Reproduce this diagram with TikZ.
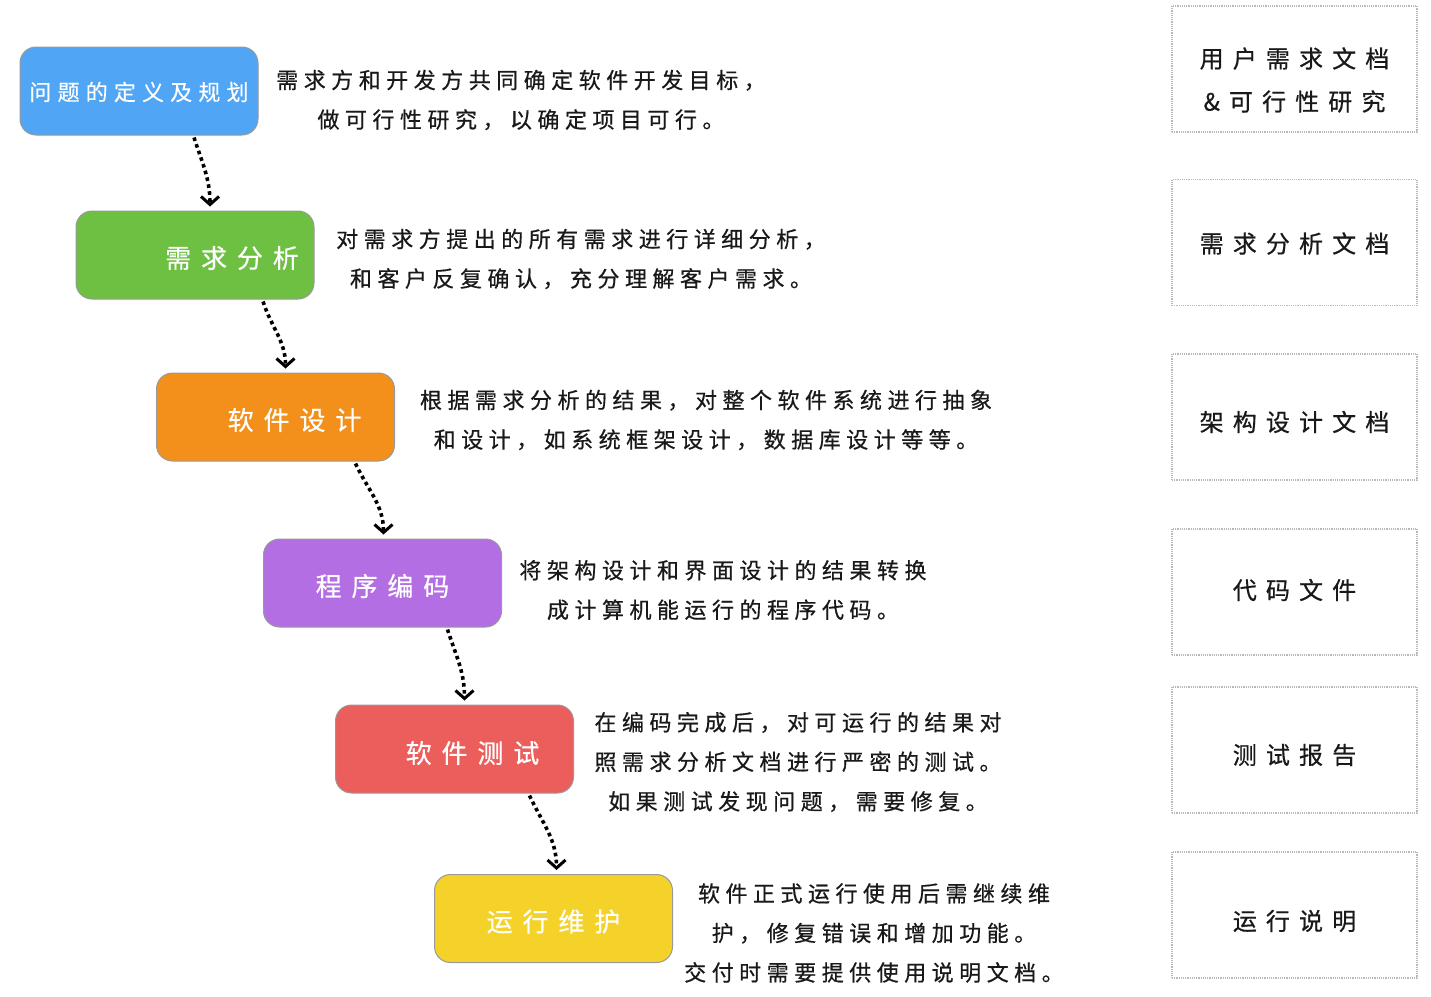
\documentclass[tikz,border=0pt]{standalone}
\usepackage{fontspec}
\usetikzlibrary{arrows.meta}
\newfontfamily\cjkdesc[LetterSpace=25,FakeBold=0.6]{Noto Sans CJK SC}
\newfontfamily\cjkbox[LetterSpace=38,FakeBold=0.5]{Noto Sans CJK SC}
\newfontfamily\cjkboxa[LetterSpace=28,FakeBold=0.4]{Noto Sans CJK SC}
\newfontfamily\cjkdoc[LetterSpace=38,FakeBold=0.6]{Noto Sans CJK SC}
\newcommand{\lowtext}[2]{\raisebox{-#1}[\height][\depth]{#2}}
\definecolor{cblue}{RGB}{80,166,245}
\definecolor{cgreen}{RGB}{109,192,66}
\definecolor{corange}{RGB}{243,144,28}
\definecolor{cpurple}{RGB}{180,110,227}
\definecolor{cred}{RGB}{236,94,91}
\definecolor{cyellow}{RGB}{245,210,42}
\tikzset{
  stagebox/.style={draw=gray!80, line width=1pt, rounded corners=16pt,
    minimum width=238pt, minimum height=88pt, inner sep=0pt,
    text=white, font=\cjkbox\fontsize{26}{30}\selectfont},
  desc/.style={align=center, font=\cjkdesc\fontsize{22}{39.5}\selectfont, text=black!90, inner sep=0pt},
  docbox/.style={draw=gray!55, densely dotted, line width=1.2pt,
    minimum width=245pt, minimum height=126pt, inner sep=0pt},
  doctext/.style={align=center, inner sep=0pt,
    font=\cjkdoc\fontsize{24}{43}\selectfont, text=black!90},
  flow/.style={line width=3.6pt, dash pattern=on 3.6pt off 3.4pt,
    -{Straight Barb[length=8pt,width=18pt,line width=3pt]}}
}
\begin{document}
\begin{tikzpicture}[x=1pt,y=-1pt]
\useasboundingbox[fill=white] (0,0) rectangle (1431,996);
% stage boxes
\node[stagebox, fill=cblue, font=\cjkboxa\fontsize{22}{26}\selectfont] (b1) at (139,91) {\lowtext{1pt}{问题的定义及规划}};
\node[stagebox, fill=cgreen] (b2) at (195,255) {\hspace*{74pt}\lowtext{3pt}{需求分析}};
\node[stagebox, fill=corange] (b3) at (275.5,417) {\hspace*{38pt}\lowtext{3pt}{软件设计}};
\node[stagebox, fill=cpurple] (b4) at (382.5,583) {\lowtext{3pt}{程序编码}};
\node[stagebox, fill=cred] (b5) at (454.5,749) {\hspace*{36pt}\lowtext{4pt}{软件测试}};
\node[stagebox, fill=cyellow] (b6) at (553.5,918.5) {\lowtext{3pt}{运行维护}};
% flows
\draw[flow] ([xshift=55pt,yshift=-2pt]b1.south) to[out=-72,in=90] ([xshift=15pt,yshift=4pt]b2.north);
\draw[flow] ([xshift=68pt,yshift=-2pt]b2.south) to[out=-72,in=90] ([xshift=10pt,yshift=4pt]b3.north);
\draw[flow] ([xshift=80pt,yshift=-2pt]b3.south) to[out=-65,in=90] ([xshift=1pt,yshift=4pt]b4.north);
\draw[flow] ([xshift=65pt,yshift=-2pt]b4.south) to[out=-72,in=90] ([xshift=10pt,yshift=4pt]b5.north);
\draw[flow] ([xshift=75pt,yshift=-2pt]b5.south) to[out=-65,in=90] ([xshift=3pt,yshift=4pt]b6.north);
% descriptions
\node[desc] (d1) at (521,100) {需求方和开发方共同确定软件开发目标，\\做可行性研究，以确定项目可行。};
\node[desc] (d2) at (581,259) {对需求方提出的所有需求进行详细分析，\\和客户反复确认，充分理解客户需求。};
\node[desc] (d3) at (706,420) {根据需求分析的结果，对整个软件系统进行抽象\\和设计，如系统框架设计，数据库设计等等。};
\node[desc] (d4) at (723,590) {将架构设计和界面设计的结果转换\\成计算机能运行的程序代码。};
\node[desc] (d5) at (798,762) {在编码完成后，对可运行的结果对\\照需求分析文档进行严密的测试。\\如果测试发现问题，需要修复。};
\node[desc] (d6) at (874,933) {软件正式运行使用后需继续维\\护，修复错误和增加功能。\\交付时需要提供使用说明文档。};
% document boxes
\node[docbox] (r1) at (1294.5,69) {};
\node[docbox] (r2) at (1294.5,242.5) {};
\node[docbox] (r3) at (1294.5,417) {};
\node[docbox] (r4) at (1294.5,592) {};
\node[docbox] (r5) at (1294.5,750) {};
\node[docbox] (r6) at (1294.5,915) {};
\node[doctext] (t1) at ([yshift=-11pt]r1.center) {用户需求文档\\\&可行性研究};
\node[doctext] (t2) at ([yshift=-1pt]r2.center) {需求分析文档};
\node[doctext] (t3) at ([yshift=-5pt]r3.center) {架构设计文档};
\node[doctext] (t4) at ([yshift=2pt]r4.center) {代码文件};
\node[doctext] (t5) at ([yshift=-5pt]r5.center) {测试报告};
\node[doctext] (t6) at ([yshift=-6pt]r6.center) {运行说明};
\end{tikzpicture}
\end{document}
